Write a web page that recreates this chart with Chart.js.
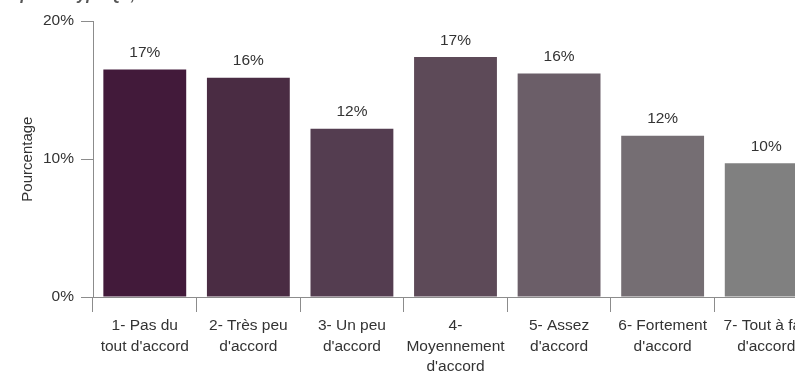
<!DOCTYPE html>
<html>
<head>
<meta charset="utf-8">
<script src="https://cdn.jsdelivr.net/npm/chart.js@4/dist/chart.umd.min.js"></script>
<style>
  html, body { margin: 0; padding: 0; overflow: hidden; background: #fff; width: 795px; height: 378px; }
  #wrap { position: absolute; left: 0; top: -14px; }
</style>
</head>
<body>
<div id="wrap"><canvas id="accordChart" width="820" height="402"></canvas></div>
<script>
// categories and values (percent)
const categories = [
    ['1- Pas du', "tout d'accord"],
    ['2- Très peu', "d'accord"],
    ['3- Un peu', "d'accord"],
    ['4-', 'Moyennement', "d'accord"],
    ['5- Assez', "d'accord"],
    ['6- Fortement', "d'accord"],
    ['7- Tout à fait', "d'accord"]
];
const percentages = [16.5, 15.9, 12.2, 17.4, 16.2, 11.7, 9.7];
const barColors = ['#421a3a', '#4a2c43', '#543d50', '#5d4a58', '#6b5e68', '#756e73', '#808080'];
const yTicks = [0, 10, 20];

const textColor = '#333';
const axisColor = '#8c8c8c';
const font = 'Liberation Sans, Arial, sans-serif';

// draws the "17%" labels above the bars
const valueLabels = {
    id: 'valueLabels',
    afterDatasetsDraw(chart) {
        const ctx = chart.ctx;
        const meta = chart.getDatasetMeta(0);
        ctx.save();
        ctx.font = '15.5px ' + font;
        ctx.fillStyle = textColor;
        ctx.textAlign = 'center';
        ctx.textBaseline = 'bottom';
        meta.data.forEach(function (bar, i) {
            ctx.fillText(Math.round(percentages[i]) + '%', bar.x, bar.y - 9);
        });
        ctx.restore();
    }
};

var ctx = document.getElementById('accordChart');
var chart = new Chart(ctx, {
    type: 'bar',
    data: {
        labels: categories,
        datasets: [{
            data: percentages,
            backgroundColor: barColors,
            borderWidth: 0,
            categoryPercentage: 1.0,
            barPercentage: 0.8
        }]
    },
    options: {
        responsive: false,
        animation: false,
        layout: { padding: { left: 0, right: 2, top: 0, bottom: 0 } },
        plugins: {
            legend: { display: false },
            tooltip: { enabled: false },
            title: {
                display: true,
                text: 'Réponse type Q1, %',
                align: 'start',
                color: '#555',
                font: { family: font, size: 16, weight: 'bold', style: 'italic' },
                padding: { top: 0, bottom: 16 }
            }
        },
        scales: {
            x: {
                grid: {
                    drawOnChartArea: false,
                    color: axisColor,
                    tickLength: 15,
                    offset: true
                },
                border: { color: axisColor },
                ticks: {
                    color: textColor,
                    maxRotation: 0,
                    autoSkip: false,
                    padding: 4,
                    font: { family: font, size: 15.5, lineHeight: 1.3 }
                },
                afterFit: function (scale) { scale.height = 91; }
            },
            y: {
                min: 0,
                max: 20,
                afterBuildTicks: function (scale) {
                    scale.ticks = yTicks.map(function (v) { return { value: v }; });
                },
                grid: {
                    drawOnChartArea: false,
                    color: axisColor,
                    tickLength: 12
                },
                border: { color: axisColor },
                ticks: {
                    color: textColor,
                    padding: 7,
                    font: { family: font, size: 15.5 },
                    callback: function (v) { return v + '%'; }
                },
                title: {
                    display: true,
                    text: 'Pourcentage',
                    color: textColor,
                    font: { family: font, size: 15 },
                    padding: { top: 19, bottom: 0 }
                },
                afterFit: function (scale) { scale.width = 93; }
            }
        }
    },
    plugins: [valueLabels]
});
</script>
</body>
</html>
